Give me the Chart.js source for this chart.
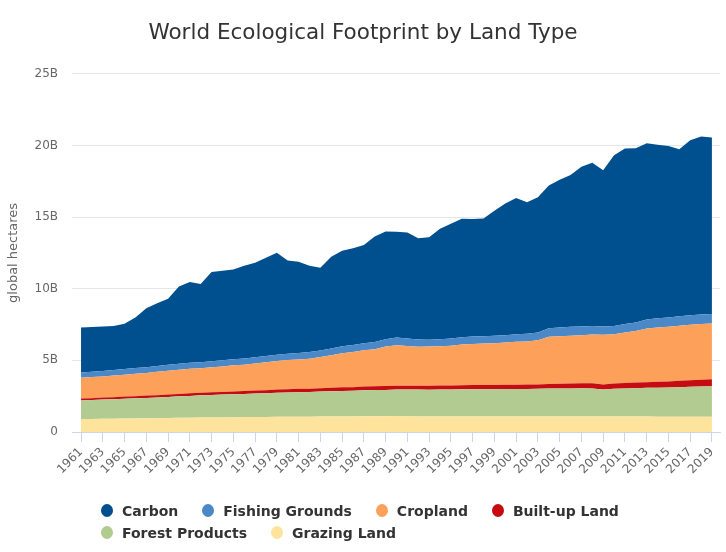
<!DOCTYPE html>
<html>
<head>
<meta charset="utf-8">
<script src="https://cdn.jsdelivr.net/npm/chart.js@4.4.0/dist/chart.umd.min.js"></script>
<style>
  body { margin: 0; background: #fff; }
  #wrap { position: relative; width: 726px; height: 552px; }
  #legend {
    position: absolute; left: 101px; top: 502px; width: 600px;
    display: flex; flex-wrap: wrap; row-gap: 5px;
    font: bold 14px "DejaVu Sans", sans-serif; color: #333;
  }
  .item { display: flex; align-items: center; margin-right: 24px; height: 17px; }
  .dot { width: 12px; height: 13px; border-radius: 50%; margin-right: 9px; }
</style>
</head>
<body>
<div id="wrap">
  <canvas id="mychart" width="726" height="552"></canvas>
  <div id="legend"></div>
</div>
<script>
// years 1961..2019, values in billions of global hectares
var years = [];
for (var y = 1961; y <= 2019; y++) years.push(y);

var grazing = [0.90,0.91,0.92,0.93,0.94,0.95,0.96,0.97,0.98,0.99,
  1.00,1.01,1.02,1.02,1.03,1.04,1.04,1.05,1.06,1.06,
  1.07,1.07,1.08,1.08,1.09,1.09,1.10,1.10,1.10,1.11,
  1.10,1.09,1.08,1.08,1.08,1.09,1.09,1.09,1.08,1.08,
  1.08,1.08,1.08,1.09,1.09,1.09,1.09,1.09,1.08,1.08,
  1.08,1.08,1.08,1.07,1.07,1.07,1.07,1.07,1.06];

var forest = [1.30,1.32,1.34,1.36,1.38,1.40,1.42,1.44,1.47,1.50,
  1.52,1.55,1.57,1.59,1.60,1.62,1.64,1.66,1.68,1.70,
  1.71,1.72,1.74,1.76,1.78,1.79,1.81,1.83,1.84,1.85,
  1.86,1.87,1.87,1.88,1.89,1.89,1.90,1.90,1.91,1.92,
  1.92,1.92,1.93,1.94,1.95,1.95,1.96,1.95,1.88,1.93,
  1.96,1.98,2.00,2.02,2.04,2.06,2.08,2.10,2.13];

var builtup = [0.13,0.13,0.14,0.14,0.15,0.15,0.16,0.16,0.17,0.17,
  0.18,0.18,0.19,0.19,0.20,0.20,0.21,0.21,0.22,0.22,
  0.23,0.23,0.24,0.24,0.25,0.25,0.26,0.26,0.27,0.27,
  0.27,0.27,0.27,0.28,0.28,0.28,0.29,0.29,0.29,0.30,
  0.30,0.31,0.31,0.32,0.33,0.34,0.35,0.36,0.36,0.37,
  0.38,0.39,0.40,0.41,0.42,0.44,0.46,0.48,0.50];

var cropland = [1.45,1.47,1.48,1.51,1.53,1.56,1.58,1.63,1.66,1.69,
  1.72,1.71,1.74,1.78,1.82,1.84,1.89,1.94,1.99,2.04,
  2.05,2.10,2.17,2.27,2.38,2.45,2.53,2.59,2.75,2.83,
  2.77,2.72,2.74,2.74,2.77,2.84,2.87,2.90,2.92,2.94,
  3.00,3.01,3.08,3.29,3.31,3.34,3.36,3.40,3.46,3.45,
  3.53,3.60,3.75,3.80,3.82,3.85,3.87,3.89,3.89];

var fishing = [0.37,0.38,0.38,0.39,0.39,0.40,0.40,0.41,0.41,0.42,
  0.42,0.41,0.42,0.42,0.42,0.43,0.43,0.44,0.44,0.45,
  0.45,0.46,0.46,0.47,0.48,0.49,0.50,0.51,0.52,0.54,
  0.52,0.50,0.48,0.49,0.50,0.51,0.52,0.51,0.51,0.52,
  0.52,0.53,0.55,0.60,0.62,0.62,0.61,0.60,0.58,0.56,
  0.58,0.60,0.63,0.64,0.65,0.65,0.66,0.66,0.66];

var carbon = [3.15,3.12,3.10,3.07,3.17,3.54,4.12,4.38,4.61,5.39,
  5.63,5.47,6.23,6.25,6.27,6.47,6.60,6.86,7.12,6.50,
  6.37,6.02,5.77,6.41,6.67,6.75,6.85,7.35,7.51,7.37,
  7.41,7.07,7.15,7.71,8.01,8.27,8.19,8.21,8.74,9.18,
  9.52,9.18,9.43,9.97,10.30,10.59,11.15,11.40,10.90,11.93,
  12.26,12.15,12.30,12.11,11.96,11.67,12.23,12.43,12.31];

var yTicks = [0, 5, 10, 15, 20, 25];

// bottom of the stack first
var series = [
  { label: "Grazing Land", data: grazing, color: "#fde39c" },
  { label: "Forest Products", data: forest, color: "#b2cb91" },
  { label: "Built-up Land", data: builtup, color: "#c40c12" },
  { label: "Cropland", data: cropland, color: "#fca05a" },
  { label: "Fishing Grounds", data: fishing, color: "#4a88c7" },
  { label: "Carbon", data: carbon, color: "#00508f" }
];
var legendOrder = ["Carbon", "Fishing Grounds", "Cropland", "Built-up Land", "Forest Products", "Grazing Land"];

var datasets = series.map(function(s, k){
  return {
    label: s.label,
    data: years.map(function(yr, i){ return { x: yr, y: s.data[i] * 1e9 }; }),
    backgroundColor: s.color,
    borderColor: s.color,
    borderWidth: 0,
    pointRadius: 0,
    fill: k === 0 ? "origin" : "-1"
  };
});

var font = "'DejaVu Sans', sans-serif";
var ctx = document.getElementById("mychart").getContext("2d");
var chart = new Chart(ctx, {
  type: "line",
  data: { datasets: datasets },
  options: {
    responsive: false,
    animation: false,
    layout: { padding: { left: 6, right: 6, top: 0, bottom: 66 } },
    plugins: {
      legend: { display: false },
      tooltip: { enabled: false },
      title: {
        display: true,
        text: "World Ecological Footprint by Land Type",
        color: "#333",
        font: { family: font, size: 21.5, weight: "normal" },
        padding: { top: 21, bottom: 27 }
      }
    },
    scales: {
      x: {
        type: "linear",
        min: 1960.17,
        max: 2019.74,
        afterBuildTicks: function(scale){
          scale.ticks = years.filter(function(v, i){ return i % 2 === 0; })
            .map(function(v){ return { value: v }; });
        },
        afterFit: function(scale){ scale.height = 54; },
        ticks: {
          autoSkip: false, maxRotation: 45, minRotation: 45,
          color: "#666", font: { family: font, size: 12 },
          callback: function(v){ return String(v); }
        },
        grid: { drawOnChartArea: false, tickLength: 10, color: "#ccd6eb" },
        border: { color: "#ccd6eb" }
      },
      y: {
        stacked: true,
        min: 0,
        max: 25e9,
        afterBuildTicks: function(scale){
          scale.ticks = yTicks.map(function(v){ return { value: v * 1e9 }; });
        },
        afterFit: function(scale){ scale.width = 66; },
        ticks: {
          color: "#666", font: { family: font, size: 12 }, padding: 14,
          callback: function(v){ return v === 0 ? "0" : (v / 1e9) + "B"; }
        },
        grid: { color: "#e6e6e6", drawTicks: false },
        border: { display: false },
        title: {
          display: true, text: "global hectares", color: "#666",
          font: { family: font, size: 13 }, padding: 0
        }
      }
    }
  }
});

// legend in the same row layout as the original
var leg = document.getElementById("legend");
legendOrder.forEach(function(name){
  var s = series.filter(function(d){ return d.label === name; })[0];
  var it = document.createElement("div");
  it.className = "item";
  var dot = document.createElement("span");
  dot.className = "dot";
  dot.style.background = s.color;
  var tx = document.createElement("span");
  tx.textContent = s.label;
  it.appendChild(dot);
  it.appendChild(tx);
  leg.appendChild(it);
});
</script>
</body>
</html>
